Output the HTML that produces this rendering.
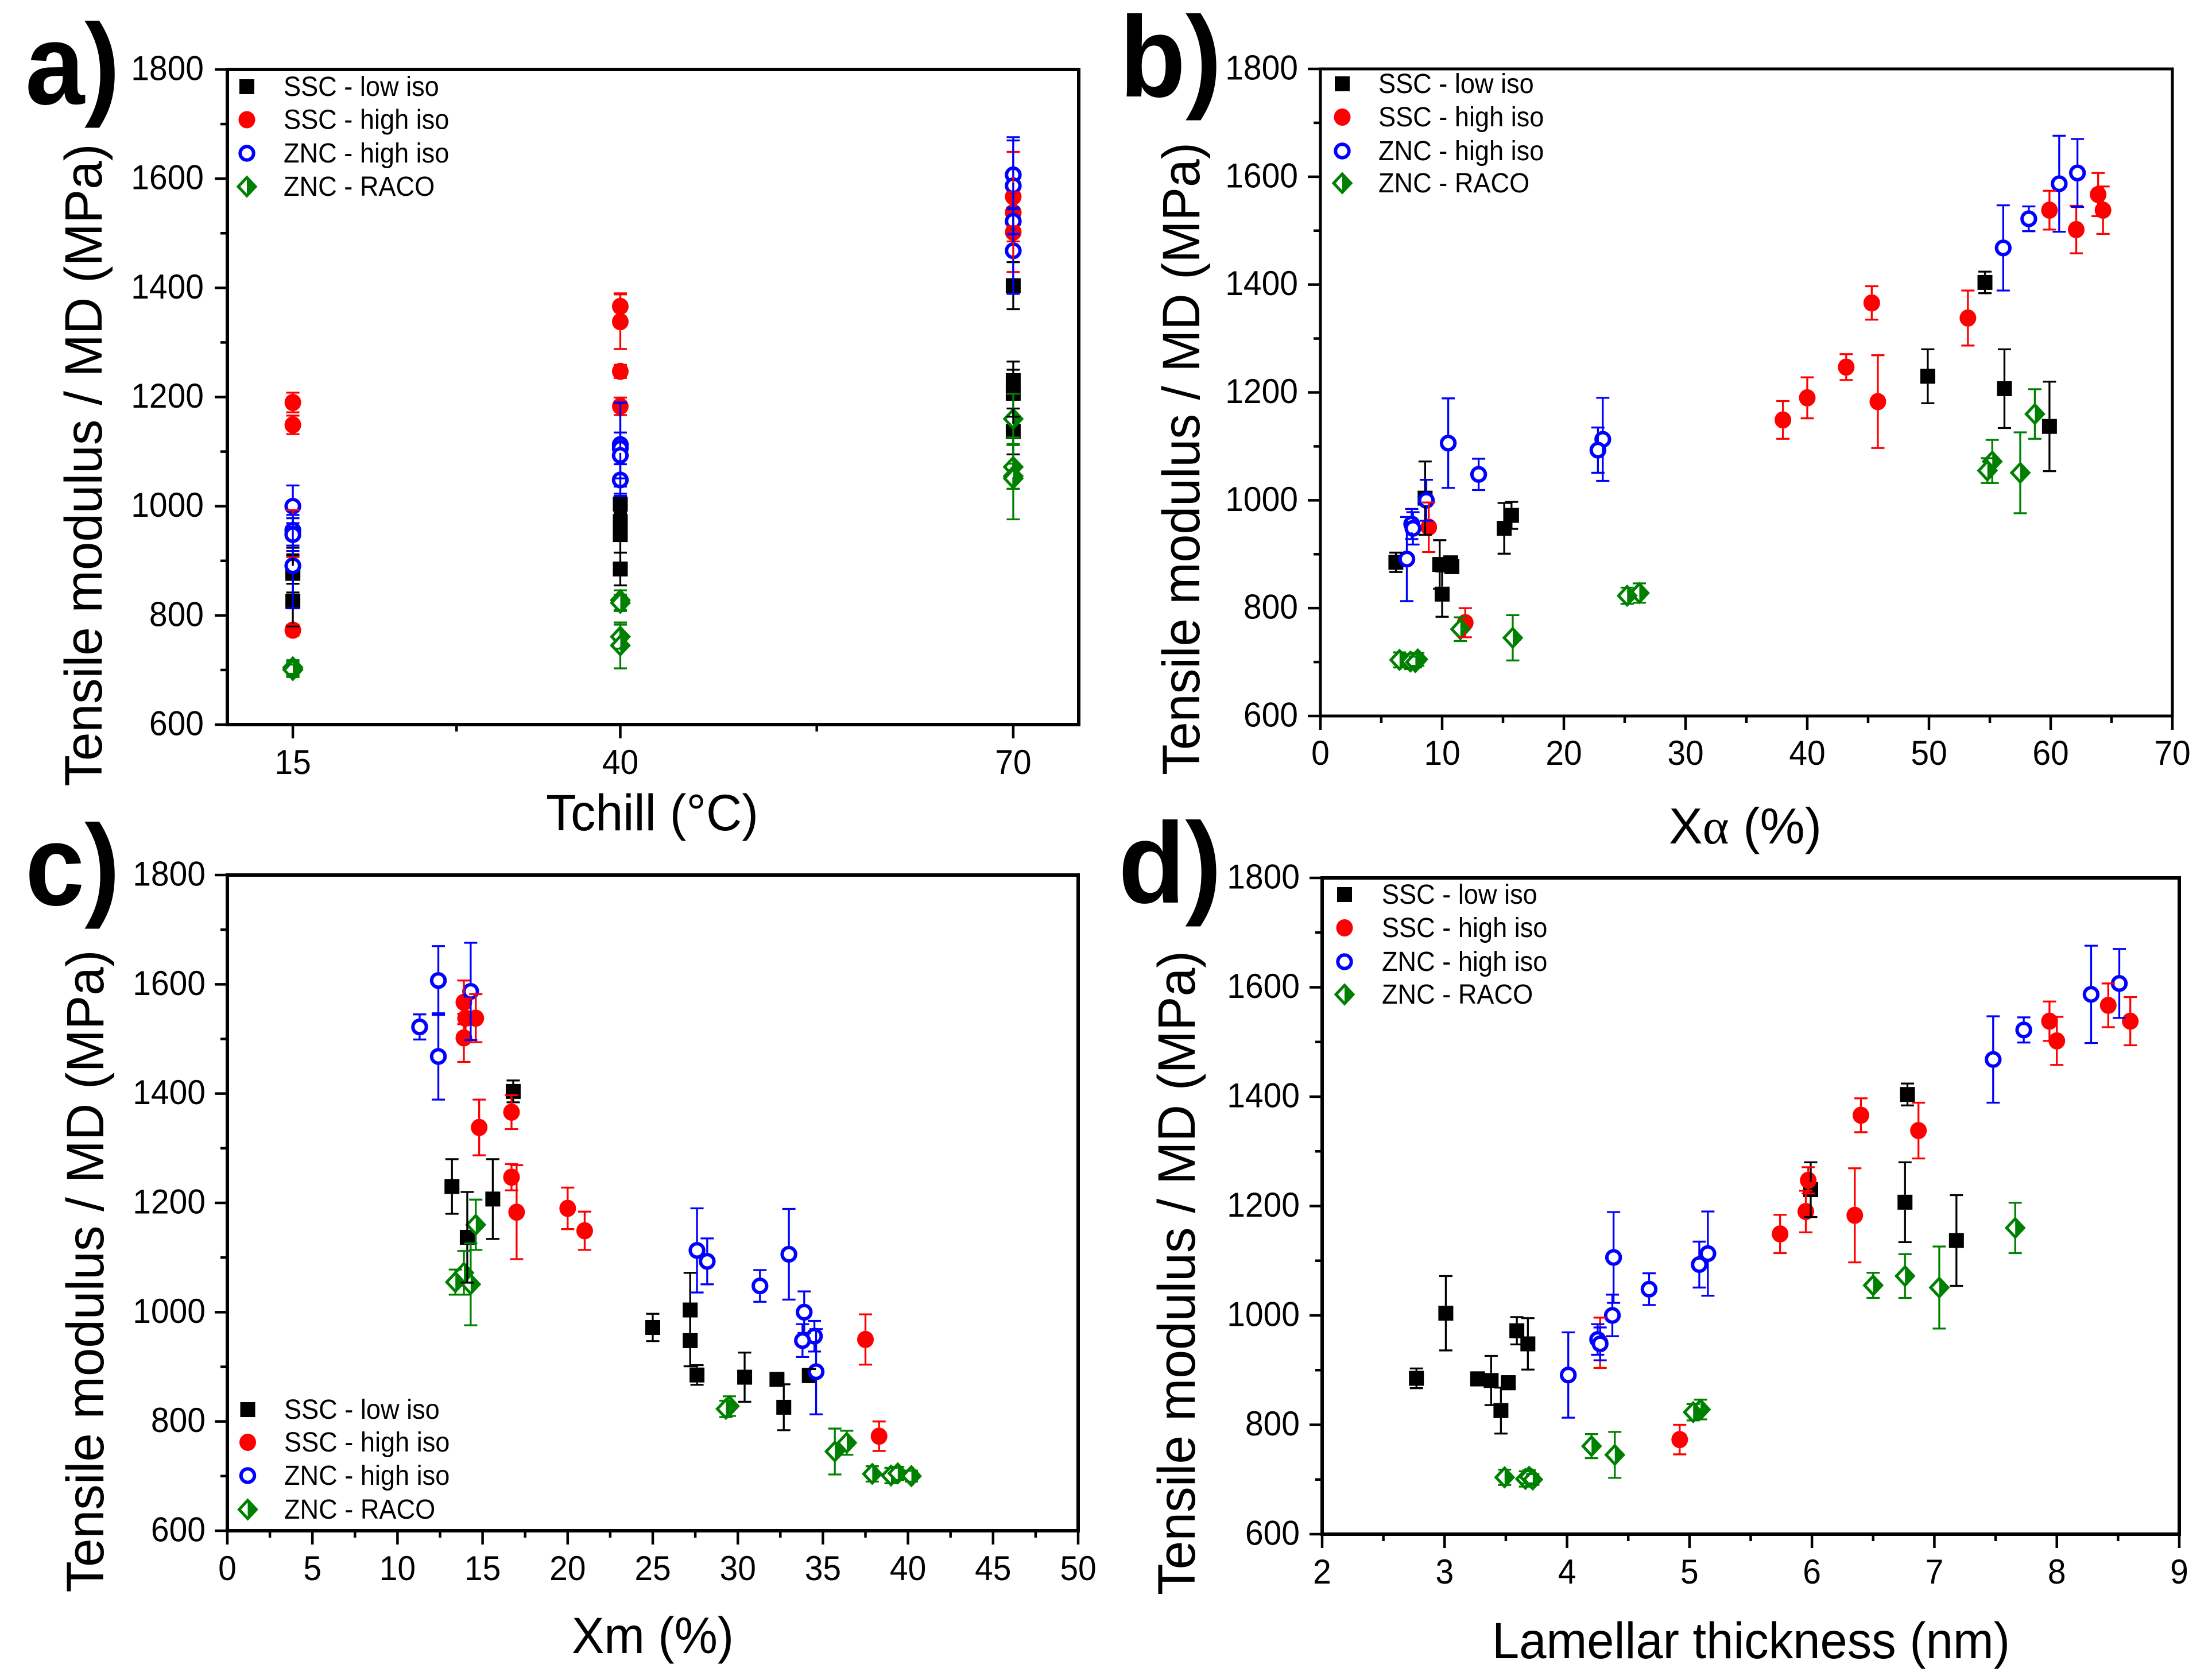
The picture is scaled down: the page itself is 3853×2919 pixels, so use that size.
<!DOCTYPE html>
<html lang="en">
<head>
<meta charset="utf-8">
<title>Tensile modulus versus processing and structure parameters</title>
<style>
html,body{margin:0;padding:0;background:#fff;}
svg{display:block;font-family:"Liberation Sans",sans-serif;}
text{fill:#000;}
</style>
</head>
<body>
<svg id="figure" xmlns="http://www.w3.org/2000/svg" width="3853" height="2919" viewBox="0 0 3853 2919">
<rect width="3853" height="2919" fill="#fff"/>

<g>
<text x="44" y="181" font-size="200" font-weight="700" textLength="165" lengthAdjust="spacingAndGlyphs">a)</text>
<text transform="translate(177,810) rotate(-90)" text-anchor="middle" font-size="92" textLength="1119" lengthAdjust="spacingAndGlyphs">Tensile modulus / MD (MPa)</text>
<text x="1136" y="1446" text-anchor="middle" font-size="89" textLength="370" lengthAdjust="spacingAndGlyphs">Tchill (°C)</text>
<text transform="translate(494,167) scale(.94,1)" font-size="48">SSC - low iso</text>
<text transform="translate(494,224.5) scale(.94,1)" font-size="48">SSC - high iso</text>
<text transform="translate(494,283) scale(.94,1)" font-size="48">ZNC - high iso</text>
<text transform="translate(494,341) scale(.94,1)" font-size="48">ZNC - RACO</text>
</g>

<g>
<text x="1950" y="168" font-size="200" font-weight="700" textLength="178" lengthAdjust="spacingAndGlyphs">b)</text>
<text transform="translate(2089,799) rotate(-90)" text-anchor="middle" font-size="92" textLength="1102" lengthAdjust="spacingAndGlyphs">Tensile modulus / MD (MPa)</text>
<text x="3040" y="1469" text-anchor="middle" font-size="88" textLength="266" lengthAdjust="spacingAndGlyphs">X<tspan font-family="'Liberation Serif',serif">α</tspan> (%)</text>
<text transform="translate(2401,162) scale(.94,1)" font-size="48">SSC - low iso</text>
<text transform="translate(2401,220) scale(.94,1)" font-size="48">SSC - high iso</text>
<text transform="translate(2401,279) scale(.94,1)" font-size="48">ZNC - high iso</text>
<text transform="translate(2401,335) scale(.94,1)" font-size="48">ZNC - RACO</text>
</g>

<g>
<text x="44" y="1576" font-size="200" font-weight="700" textLength="165" lengthAdjust="spacingAndGlyphs">c)</text>
<text transform="translate(180,2214) rotate(-90)" text-anchor="middle" font-size="92" textLength="1119" lengthAdjust="spacingAndGlyphs">Tensile modulus / MD (MPa)</text>
<text x="1137" y="2879" text-anchor="middle" font-size="89" textLength="282" lengthAdjust="spacingAndGlyphs">Xm (%)</text>
<text transform="translate(495,2471) scale(.94,1)" font-size="48">SSC - low iso</text>
<text transform="translate(495,2528) scale(.94,1)" font-size="48">SSC - high iso</text>
<text transform="translate(495,2586) scale(.94,1)" font-size="48">ZNC - high iso</text>
<text transform="translate(495,2645) scale(.94,1)" font-size="48">ZNC - RACO</text>
</g>

<g>
<text x="1948" y="1572" font-size="200" font-weight="700" textLength="180" lengthAdjust="spacingAndGlyphs">d)</text>
<text transform="translate(2081,2217) rotate(-90)" text-anchor="middle" font-size="92" textLength="1122" lengthAdjust="spacingAndGlyphs">Tensile modulus / MD (MPa)</text>
<text x="3050" y="2888" text-anchor="middle" font-size="89" textLength="902" lengthAdjust="spacingAndGlyphs">Lamellar thickness (nm)</text>
<text transform="translate(2407,1574) scale(.94,1)" font-size="48">SSC - low iso</text>
<text transform="translate(2407,1632) scale(.94,1)" font-size="48">SSC - high iso</text>
<text transform="translate(2407,1691) scale(.94,1)" font-size="48">ZNC - high iso</text>
<text transform="translate(2407,1748) scale(.94,1)" font-size="48">ZNC - RACO</text>
</g>
</svg>

<script>
// Shared y values (MPa) and error half-widths
var modulusLow  = [1404,1230,1207,1137,1004,972,948,885,881,877,884,826];
var errorLow    = [20,50,73,83,68,25,47,18,45,12,12,42];
var modulusHigh = [1567,1538,1538,1502,1366,1338,1247,1183,1190,1149,950,773];
var errorHigh   = [40,36,44,44,31,51,24,86,38,35,46,27];
var modulusBlue = [1607,1587,1522,1468,1113,1106,1093,1048,1000,956,948,891];
var errorBlue   = [63,89,23,79,77,83,42,29,38,28,30,78];
var modulusRaco = [1160,1072,1055,1051,828,823,761,745,704,701,705,700];
var errorRaco   = [46,40,23,75,18,15,22,42,14,14,12,10];

// Panel a plots its SSC series with different error half-widths
var errorLowTchill  = [43,35,43,42,15,15,33,30,43,35,26,46];
var errorHighTchill = [82,25,28,73,24,50,12,16,18,17,43,10];

// Panel a: chill temperature (°C)
var tchillLow  = [70,70,70,70,40,40,40,40,15,15,15,15];
var tchillHigh = [70,70,70,70,40,40,40,40,15,15,15,15];
var tchillBlue = [70,70,70,70,40,40,40,40,15,15,15,15];
var tchillRaco = [70,70,70,70,40,40,40,40,15,15,15,15];

// Panel b: X-alpha (%)
var xalphaLow  = [54.6,49.9,56.2,59.9,8.6,15.7,15.1,6.2,9.8,10.8,10.7,10.0];
var xalphaHigh = [63.9,59.9,64.3,62.1,45.3,53.2,43.2,45.8,40.0,38.0,8.9,11.9];
var xalphaBlue = [62.2,60.7,58.2,56.1,23.2,10.5,22.8,13.0,8.7,7.5,7.6,7.1];
var xalphaRaco = [58.7,55.2,54.8,57.5,26.2,25.2,11.5,15.8,6.5,7.4,8.0,7.8];

// Panel c: Xm (%)
var xmLow  = [16.8,13.2,15.6,14.1,27.2,25.0,27.2,27.6,30.4,32.3,34.2,32.7];
var xmHigh = [13.9,14.0,14.6,13.9,16.7,14.8,16.7,17.0,20.0,21.0,37.5,38.3];
var xmBlue = [12.4,14.3,11.3,12.4,27.6,33.0,28.2,31.3,33.9,34.5,33.8,34.6];
var xmRaco = [14.6,13.9,13.4,14.3,29.5,29.3,36.4,35.7,37.9,39.0,39.4,40.2];

// Panel d: lamellar thickness (nm)
var lamellarLow  = [6.78,5.99,6.76,7.18,3.01,3.59,3.68,2.77,3.38,3.52,3.27,3.46];
var lamellarHigh = [8.42,7.94,8.60,8.00,6.40,6.87,5.97,6.35,5.95,5.74,4.27,4.92];
var lamellarBlue = [8.51,8.28,7.73,7.48,5.15,4.38,5.08,4.67,4.37,4.25,4.27,4.01];
var lamellarRaco = [7.66,6.76,6.50,7.04,5.09,5.03,4.20,4.39,3.49,3.66,3.69,3.72];

// Tick labels
var yTickLabels = [600,800,1000,1200,1400,1600,1800];
var yMinorTicks = [700,900,1100,1300,1500,1700];
var xTicksA = [15,40,70];
var xMinorA = [27.5,55];
var xTicksB = [0,10,20,30,40,50,60,70];
var xMinorB = [5,15,25,35,45,55,65];
var xTicksC = [0,5,10,15,20,25,30,35,40,45,50];
var xMinorC = [2.5,7.5,12.5,17.5,22.5,27.5,32.5,37.5,42.5,47.5];
var xTicksD = [2,3,4,5,6,7,8,9];
var xMinorD = [2.5,3.5,4.5,5.5,6.5,7.5,8.5];

var SVGNS = 'http://www.w3.org/2000/svg';
var figure = document.getElementById('figure');
var BLUE = '#0000ff', RED = '#ff0000', GREEN = '#008000';

function make(tag, parent, attrs) {
  var el = document.createElementNS(SVGNS, tag);
  for (var k in attrs) el.setAttribute(k, attrs[k]);
  parent.appendChild(el);
  return el;
}

function drawSquare(parent, x, y) {
  var el = make('rect', parent, {x: x - 13, y: y - 13, width: 26, height: 26, fill: '#000'});
  
  
}
function drawDisc(parent, x, y) {
  var el = make('ellipse', parent, {cx: x, cy: y, rx: 14.5, ry: 15, fill: RED});
  
  
}
function drawRing(parent, x, y) {
  var el = make('circle', parent, {cx: x, cy: y, r: 11.7, fill: '#fff', stroke: BLUE, 'stroke-width': 6});
  
  
}
function drawDiamond(parent, x, y) {
  var g = make('g', parent, {});
  
  
  make('polygon', g, {
    points: (x - 15) + ',' + y + ' ' + x + ',' + (y - 16) + ' ' + (x + 15) + ',' + y + ' ' + x + ',' + (y + 16),
    fill: '#fff', stroke: GREEN, 'stroke-width': 5
  });
  make('polygon', g, {
    points: x + ',' + (y - 18.5) + ' ' + (x + 18) + ',' + y + ' ' + x + ',' + (y + 18.5),
    fill: GREEN
  });
}

var seriesDefs = [
  {id: 'ssc-low-iso',  color: '#000', gap: 13, draw: drawSquare,  values: modulusLow},
  {id: 'ssc-high-iso', color: RED,    gap: 15, draw: drawDisc,    values: modulusHigh},
  {id: 'znc-high-iso', color: BLUE,   gap: 14.5, draw: drawRing,  values: modulusBlue},
  {id: 'znc-raco',     color: GREEN,  gap: 18, draw: drawDiamond, values: modulusRaco}
];

var panels = [
  {id: 'a', left: 396, right: 1879, top: 121, bottom: 1262, xMin: 10, xMax: 75, frame: 6,
   labelRight: 355, xLabelBase: 1348, xTicks: xTicksA, xMinor: xMinorA,
   xs: [tchillLow, tchillHigh, tchillBlue, tchillRaco],
   errs: [errorLowTchill, errorHighTchill, errorBlue, errorRaco],
   legendX: 430, legendY: [151, 208.5, 267, 325]},
  {id: 'b', left: 2300, right: 3784, top: 120, bottom: 1247, xMin: 0, xMax: 70, frame: 5,
   labelRight: 2261, xLabelBase: 1332, xTicks: xTicksB, xMinor: xMinorB,
   xs: [xalphaLow, xalphaHigh, xalphaBlue, xalphaRaco],
   errs: [errorLow, errorHigh, errorBlue, errorRaco],
   legendX: 2338, legendY: [146, 204, 263, 319]},
  {id: 'c', left: 396, right: 1878, top: 1524, bottom: 2666, xMin: 0, xMax: 50, frame: 6,
   labelRight: 358, xLabelBase: 2752, xTicks: xTicksC, xMinor: xMinorC,
   xs: [xmLow, xmHigh, xmBlue, xmRaco],
   errs: [errorLow, errorHigh, errorBlue, errorRaco],
   legendX: 431.5, legendY: [2455, 2512, 2570, 2629]},
  {id: 'd', left: 2303, right: 3796, top: 1529, bottom: 2672, xMin: 2, xMax: 9, frame: 6,
   labelRight: 2264, xLabelBase: 2758, xTicks: xTicksD, xMinor: xMinorD,
   xs: [lamellarLow, lamellarHigh, lamellarBlue, lamellarRaco],
   errs: [errorLow, errorHigh, errorBlue, errorRaco],
   legendX: 2342, legendY: [1558, 1616, 1675, 1732]}
];

function tickLabel(parent, x, y, anchor, value, name) {
  var t = make('text', parent, {
    transform: 'translate(' + x + ',' + y + ') scale(.95,1)',
    'text-anchor': anchor,
    'font-size': 60
  });
  
  
  t.textContent = String(value);
}

function drawPanel(p) {
  var root = make('g', figure, {});
  
  

  var xScale = function (v) { return p.left + (v - p.xMin) / (p.xMax - p.xMin) * (p.right - p.left); };
  var yScale = function (v) { return p.bottom - (v - 600) / 1200 * (p.bottom - p.top); };

  // markers first, every series, then all error bars (symbol gap keeps own bar out of its marker)
  var marks = make('g', root, {});
  
  
  seriesDefs.forEach(function (s, si) {
    s.values.forEach(function (v, i) {
      s.draw(marks, xScale(p.xs[si][i]), yScale(v));
    });
  });

  var bars = make('g', root, {});
  
  
  seriesDefs.forEach(function (s, si) {
    s.values.forEach(function (v, i) {
      var x = xScale(p.xs[si][i]);
      var y = yScale(v);
      var hi = yScale(v + p.errs[si][i]);
      var lo = yScale(v - p.errs[si][i]);
      var d = 'M' + (x - 11.5) + ' ' + hi + 'H' + (x + 11.5) + 'M' + (x - 11.5) + ' ' + lo + 'H' + (x + 11.5);
      if (y - hi > s.gap) d += 'M' + x + ' ' + hi + 'V' + (y - s.gap) + 'M' + x + ' ' + lo + 'V' + (y + s.gap);
      var bar = make('path', bars, {d: d, fill: 'none', stroke: s.color, 'stroke-width': 3.3});
      
      
    });
  });

  // frame
  var frame = make('rect', root, {
    x: p.left, y: p.top, width: p.right - p.left, height: p.bottom - p.top,
    fill: 'none', stroke: '#000', 'stroke-width': p.frame
  });
  
  

  // y axis
  var yAxis = make('g', root, {});
  
  
  yTickLabels.forEach(function (v) {
    var y = yScale(v);
    var tick = make('path', yAxis, {d: 'M' + (p.left - 22) + ' ' + y + 'H' + p.left, stroke: '#000', 'stroke-width': 4.5});
    
    
    tickLabel(yAxis, p.labelRight, y + 18.5, 'end', v, 'y-tick-label');
  });
  yMinorTicks.forEach(function (v) {
    var y = yScale(v);
    var tick = make('path', yAxis, {d: 'M' + (p.left - 12) + ' ' + y + 'H' + p.left, stroke: '#000', 'stroke-width': 4.5});
    
    
  });

  // x axis
  var xAxis = make('g', root, {});
  
  
  p.xTicks.forEach(function (v) {
    var x = xScale(v);
    var tick = make('path', xAxis, {d: 'M' + x + ' ' + p.bottom + 'V' + (p.bottom + 24), stroke: '#000', 'stroke-width': 4.5});
    
    
    tickLabel(xAxis, x, p.xLabelBase, 'middle', v, 'x-tick-label');
  });
  p.xMinor.forEach(function (v) {
    var x = xScale(v);
    var tick = make('path', xAxis, {d: 'M' + x + ' ' + p.bottom + 'V' + (p.bottom + 12), stroke: '#000', 'stroke-width': 4.5});
    
    
  });

  // legend swatches
  var legend = make('g', root, {});
  
  
  seriesDefs.forEach(function (s, si) {
    s.draw(legend, p.legendX, p.legendY[si]);
  });
}

panels.forEach(drawPanel);
</script>
</body>
</html>
